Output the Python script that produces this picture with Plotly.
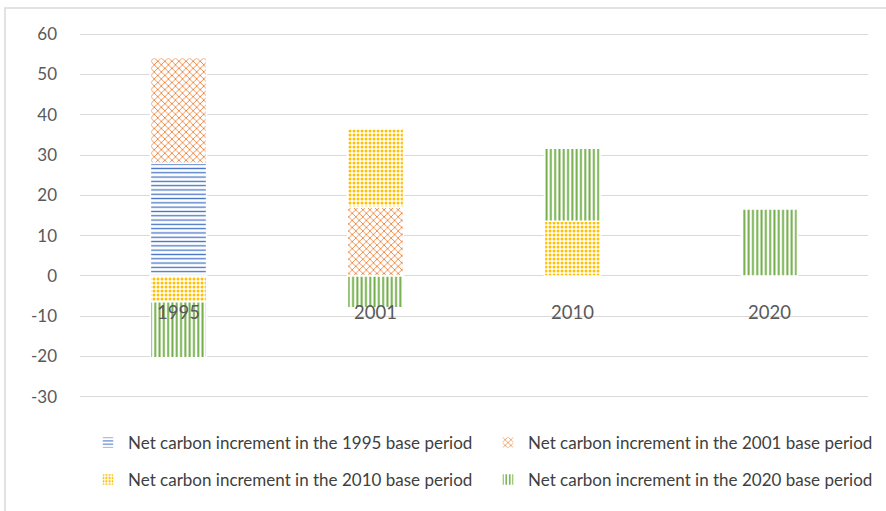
import plotly.graph_objects as go

categories = ["1995", "2001", "2010", "2020"]
series_names = [
    "Net carbon increment in the 1995 base period",
    "Net carbon increment in the 2001 base period",
    "Net carbon increment in the 2010 base period",
    "Net carbon increment in the 2020 base period",
]
base1995 = [28, None, None, None]
base2001 = [26.2, 17.1, None, None]
base2010 = [-6.4, 19.5, 13.6, None]
base2020 = [-13.9, -7.9, 18.1, 16.6]
y_ticks = [-30, -20, -10, 0, 10, 20, 30, 40, 50, 60]
y_tick_text = ["-30", "-20", "-10", "0", "10", "20", "30", "40", "50", "60"]

colors = ["#4472C4", "#ED7D31", "#FFC000", "#70AD47"]
shapes_ = ["-", "x", ".", "|"]
sizes = [4.3, 5, 4, 4.3]
solid = [0.3, 0.3, 0.45, 0.45]
values = [base1995, base2001, base2010, base2020]
legend_ids = ["legend", "legend2", "legend3", "legend4"]

FONT = "Lato"
fig = go.Figure()
for name, vals, c, sh, sz, so, lg in zip(series_names, values, colors, shapes_, sizes, solid, legend_ids):
    fig.add_trace(go.Bar(
        x=categories, y=vals, name=name, width=0.285, legend=lg,
        marker=dict(color="white", line=dict(color="white", width=1.5),
                    pattern=dict(shape=sh, fgcolor=c, bgcolor="white", size=sz,
                                 solidity=so, fillmode="replace")),
    ))

for i, cat in enumerate(categories):
    fig.add_annotation(x=i, y=0, xref="x", yref="y", text=cat, showarrow=False,
                       yanchor="middle", yshift=-36,
                       font=dict(family=FONT, size=18.5, color="#595959"))

PL, PT, PW, PH = 80, 33, 788, 365
def px_x(x):
    return (x - PL) / PW
def px_y(y):
    return (PT + PH - y) / PH

fig.add_shape(type="rect", xref="paper", yref="paper",
              x0=px_x(5), x1=px_x(900), y0=px_y(530), y1=px_y(8),
              line=dict(color="#d9d9d9", width=1.5), fillcolor="rgba(0,0,0,0)", layer="below")

leg_common = dict(orientation="h", xanchor="left", yanchor="middle", traceorder="normal",
                  font=dict(family=FONT, size=17, color="#404040"),
                  itemwidth=30, bgcolor="rgba(0,0,0,0)")

fig.update_layout(
    width=886, height=511,
    margin=dict(l=PL, r=886 - PL - PW, t=PT, b=511 - PT - PH, autoexpand=False),
    barmode="relative",
    paper_bgcolor="white", plot_bgcolor="white",
    font=dict(family=FONT, color="#595959"),
    showlegend=True,
    legend=dict(x=px_x(88), y=px_y(443), **leg_common),
    legend2=dict(x=px_x(488), y=px_y(443), **leg_common),
    legend3=dict(x=px_x(88), y=px_y(480), **leg_common),
    legend4=dict(x=px_x(488), y=px_y(480), **leg_common),
    xaxis=dict(type="category", showticklabels=False, showgrid=False, zeroline=False,
               showline=False, categoryorder="array", categoryarray=categories),
    yaxis=dict(range=[-30.3, 60.3], tickvals=y_ticks, ticktext=y_tick_text,
               showgrid=True, gridcolor="#d9d9d9",
               gridwidth=1, zeroline=True, zerolinecolor="#d9d9d9", zerolinewidth=1,
               showline=False, ticks="", ticklabelstandoff=22,
               tickfont=dict(family=FONT, size=17, color="#595959")),
)

fig.write_html("out.html")
